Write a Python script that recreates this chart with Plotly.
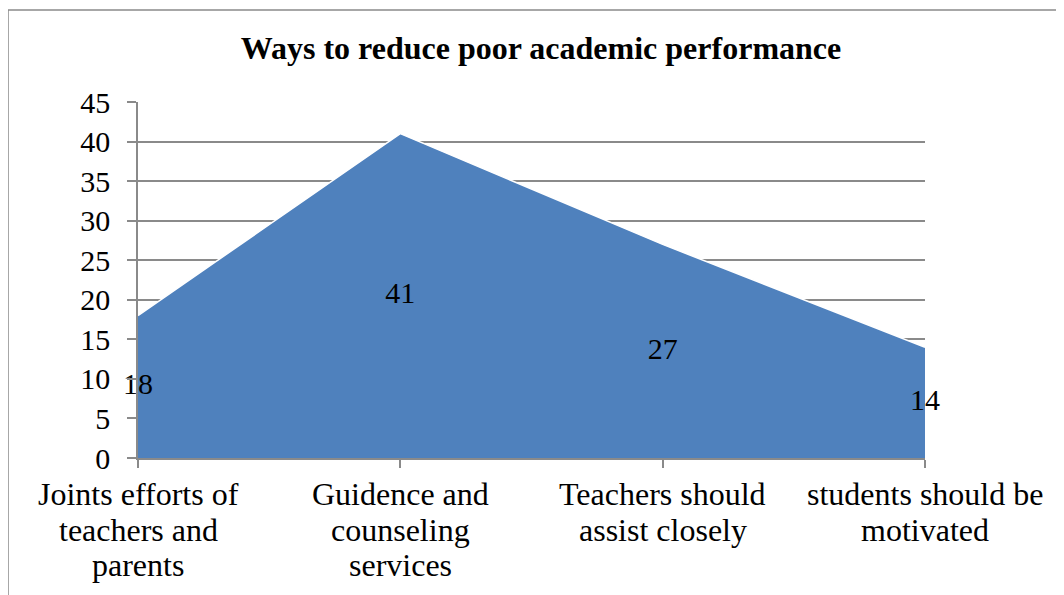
import plotly.graph_objects as go

categories = [
    "Joints efforts of<br>teachers and<br>parents",
    "Guidence and<br>counseling<br>services",
    "Teachers should<br>assist closely",
    "students should be<br>motivated",
]
values = [18, 41, 27, 14]
y_ticks = [0, 5, 10, 15, 20, 25, 30, 35, 40, 45]
title_text = "Ways to reduce poor academic performance"

FONT = "Liberation Serif, Times New Roman, serif"
# page body has an 8px margin, so the figure is drawn at (8, 8) in the window
W, H = 1056, 587
L, R, T, B = 130, 139, 94, 137
pw = W - L - R
ph = H - T - B

xs = list(range(len(categories)))

fig = go.Figure()
fig.add_trace(go.Scatter(
    x=xs, y=values, mode="lines", fill="tozeroy",
    fillcolor="#4F81BD", line=dict(color="white", width=1.5),
    hoverinfo="skip", showlegend=False,
))
fig.add_trace(go.Scatter(
    x=xs, y=[v / 2 for v in values], mode="text",
    text=[str(v) for v in values], textposition="middle center",
    textfont=dict(family=FONT, size=30, color="black"),
    showlegend=False, cliponaxis=False,
))

def px_x(p):
    return (p - L) / pw

def px_y(p):
    return (H - B - p) / ph

# chart border (left and top)
fig.add_shape(type="line", xref="paper", yref="paper",
              x0=px_x(0), x1=px_x(0), y0=px_y(2), y1=px_y(600),
              line=dict(color="#8a8a8a", width=1.5))
fig.add_shape(type="line", xref="paper", yref="paper",
              x0=px_x(0), x1=px_x(1070), y0=px_y(2), y1=px_y(2),
              line=dict(color="#8a8a8a", width=1.5))

# category labels, one annotation per line for Excel-like line spacing
for i, cat in enumerate(categories):
    for k, line in enumerate(cat.split("<br>")):
        fig.add_annotation(
            x=i, xref="x", y=0, yref="paper", text=line, showarrow=False,
            xanchor="center", yanchor="middle", yshift=-(36 + 35.5 * k),
            font=dict(family=FONT, size=32, color="black"),
        )

fig.update_layout(
    width=W, height=H,
    margin=dict(l=L, r=R, t=T, b=B),
    paper_bgcolor="white", plot_bgcolor="white",
    font=dict(family=FONT, size=30, color="black"),
    title=dict(text="<b>" + title_text + "</b>", font=dict(family=FONT, size=32, color="black"),
               x=533 / W, xref="container", xanchor="center",
               y=1 - 40 / H, yref="container", yanchor="middle"),
    showlegend=False,
)
fig.update_xaxes(
    range=[0, 3], tickmode="array", tickvals=xs, showticklabels=False,
    showgrid=False, showline=True, linecolor="#8a8a8a", linewidth=1.5,
    ticks="outside", ticklen=8, tickcolor="#8a8a8a", tickwidth=1.5,
    zeroline=False,
)
fig.update_yaxes(
    range=[0, 45], tickmode="array", tickvals=y_ticks,
    showgrid=True, gridcolor="#8a8a8a", gridwidth=1.5,
    showline=True, linecolor="#8a8a8a", linewidth=1.5,
    ticks="outside", ticklen=9, tickcolor="#8a8a8a", tickwidth=1.5,
    tickfont=dict(family=FONT, size=30, color="black"), zeroline=False,
    ticklabelstandoff=11,
)

fig.write_html("out.html")
